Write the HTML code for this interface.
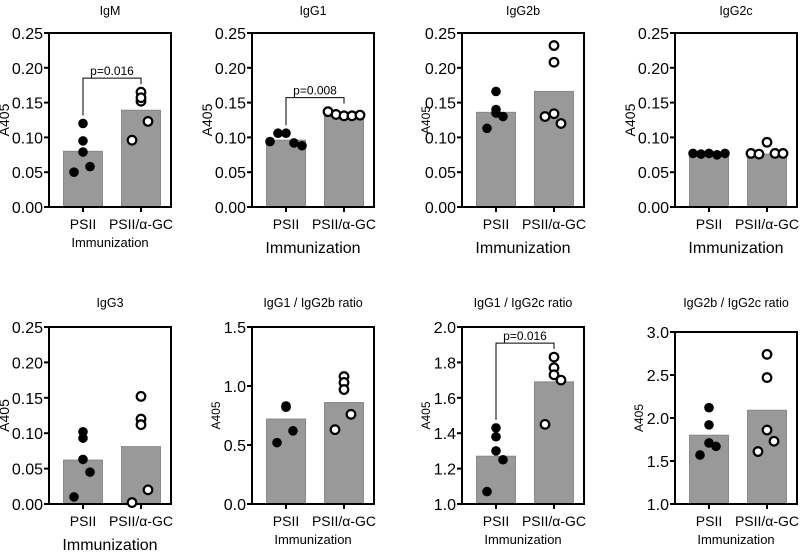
<!DOCTYPE html>
<html><head><meta charset="utf-8"><style>
body{margin:0;background:#fff;}
svg{display:block;font-family:"Liberation Sans",Arial,sans-serif;}
</style></head><body>
<svg id="chart" width="800" height="552"></svg>
<script>
const panelTitles=["IgM","IgG1","IgG2b","IgG2c","IgG3","IgG1 / IgG2b ratio","IgG1 / IgG2c ratio","IgG2b / IgG2c ratio"];
const categories=["PSII","PSII/\u03b1-GC"];
const yMins=[0,0,0,0,0,0,1.0,1.0];
const yMaxs=[0.25,0.25,0.25,0.25,0.25,1.5,2.0,3.0];
const yTicks=[
 ["0.00","0.05","0.10","0.15","0.20","0.25"],["0.00","0.05","0.10","0.15","0.20","0.25"],
 ["0.00","0.05","0.10","0.15","0.20","0.25"],["0.00","0.05","0.10","0.15","0.20","0.25"],
 ["0.00","0.05","0.10","0.15","0.20","0.25"],["0.0","0.5","1.0","1.5"],
 ["1.0","1.2","1.4","1.6","1.8","2.0"],["1.0","1.5","2.0","2.5","3.0"]];
const barPSII=[0.080,0.096,0.136,0.076,0.062,0.72,1.27,1.80];
const barGC=[0.139,0.130,0.166,0.076,0.081,0.86,1.69,2.09];
const ptsPSII=[
 [0.120,0.095,0.079,0.058,0.050],[0.094,0.106,0.106,0.092,0.088],[0.166,0.140,0.135,0.130,0.113],
 [0.077,0.076,0.077,0.075,0.077],[0.102,0.093,0.063,0.045,0.010],[0.83,0.83,0.82,0.62,0.52],
 [1.43,1.38,1.30,1.25,1.07],[2.12,1.92,1.71,1.67,1.57]];
const ptsGC=[
 [0.165,0.152,0.157,0.123,0.096],[0.137,0.133,0.131,0.131,0.132],[0.232,0.208,0.134,0.120,0.130],
 [0.077,0.076,0.093,0.077,0.077],[0.152,0.120,0.112,0.020,0.002],[1.08,1.03,0.97,0.76,0.63],
 [1.83,1.77,1.73,1.70,1.45],[2.74,2.47,1.86,1.73,1.61]];
const pLabels=["p=0.016","p=0.008","","","","","p=0.016",""];
const yLabelSmall=[false,false,true,false,false,true,true,true];
const xTitleSize=[13,16,16,16,16,13,13,13];
// layout (not data)
const L=[{x:49,t:33,b:207,tt:15},{x:252,t:33,b:207,tt:15},{x:462,t:33,b:207,tt:15},{x:675,t:33,b:207,tt:15},
 {x:49,t:327,b:504,tt:307},{x:252,t:327,b:504,tt:307},{x:462,t:327,b:504,tt:307},{x:675,t:332,b:504,tt:307}];
const W=122;
const jitA=[0,0,0,7,-9], jitRow=[-16,-8,0,8,16];
const rowMode=[false,true,false,true,false,false,false,false];
const NS="http://www.w3.org/2000/svg";
const svg=document.getElementById('chart');
function mk(tag,at,parent,txt){const e=document.createElementNS(NS,tag);for(const k in at)e.setAttribute(k,at[k]);if(txt!==undefined)e.textContent=txt;(parent||svg).appendChild(e);return e;}
for(let i=0;i<8;i++){
 const lay=L[i];
 const jit=rowMode[i]?jitRow:jitA;
 const g=mk('g',{});
 
 
 const y=v=>lay.b-(v-yMins[i])/(yMaxs[i]-yMins[i])*(lay.b-lay.t);
 const cx=[lay.x+34,lay.x+92];
 const t=mk('text',{x:lay.x+61,y:lay.tt,'text-anchor':'middle','font-size':12.5,fill:'#000'},g,panelTitles[i]);
 
 [barPSII[i],barGC[i]].forEach((v,k)=>{
  const r=mk('rect',{x:cx[k]-19.5,y:y(v),width:39,height:lay.b-y(v),fill:'#999',stroke:'#888','stroke-width':1},g);
  
 });
 const ax=mk('path',{d:`M${lay.x},${lay.t}V${lay.b}H${lay.x+W}V${lay.t}Z`,fill:'none',stroke:'#000','stroke-width':2},g);
 
 const n=yTicks[i].length;
 yTicks[i].forEach((lb,k)=>{
  const v=yMins[i]+(yMaxs[i]-yMins[i])*k/(n-1);
  mk('line',{x1:lay.x-5,x2:lay.x,y1:y(v),y2:y(v),stroke:'#000','stroke-width':2},g);
  const tl=mk('text',{x:lay.x-6,y:y(v)+6,'text-anchor':'end','font-size':16},g,lb);
  
 });
 cx.forEach((c,k)=>{
  mk('line',{x1:c,x2:c,y1:lay.b,y2:lay.b+5,stroke:'#000','stroke-width':2},g);
  const cl=mk('text',{x:c,y:lay.b+22,'text-anchor':'middle','font-size':14},g,categories[k]);
  
 });
 const yl=mk('text',{transform:`translate(${lay.x-(yLabelSmall[i]?32:40)},${(lay.t+lay.b)/2}) rotate(-90)`,'text-anchor':'middle','font-size':yLabelSmall[i]?12:14},g,'A405');
 
 const xt=mk('text',{x:lay.x+61,y:lay.b+(xTitleSize[i]>14?46:40),'text-anchor':'middle','font-size':xTitleSize[i]},g,'Immunization');
 
 ptsPSII[i].forEach((v,k)=>{
  const c=mk('circle',{cx:cx[0]+jit[k],cy:y(v),r:4.8,fill:'#000'},g);
  
 });
 ptsGC[i].forEach((v,k)=>{
  const c=mk('circle',{cx:cx[1]+jit[k],cy:y(v),r:4.3,fill:'#fff',stroke:'#000','stroke-width':2.2},g);
  
 });
 if(pLabels[i]){
  const top=Math.max(...ptsPSII[i],...ptsGC[i]);
  const yb=y(top)-14;
  mk('path',{d:`M${cx[0]},${y(Math.max(...ptsPSII[i]))-8}V${yb}H${cx[1]}V${y(Math.max(...ptsGC[i]))-8}`,fill:'none',stroke:'#000','stroke-width':1},g);
  const pl=mk('text',{x:(cx[0]+cx[1])/2,y:yb-3,'text-anchor':'middle','font-size':12},g,pLabels[i]);
  
 }
}
</script>
</body></html>
